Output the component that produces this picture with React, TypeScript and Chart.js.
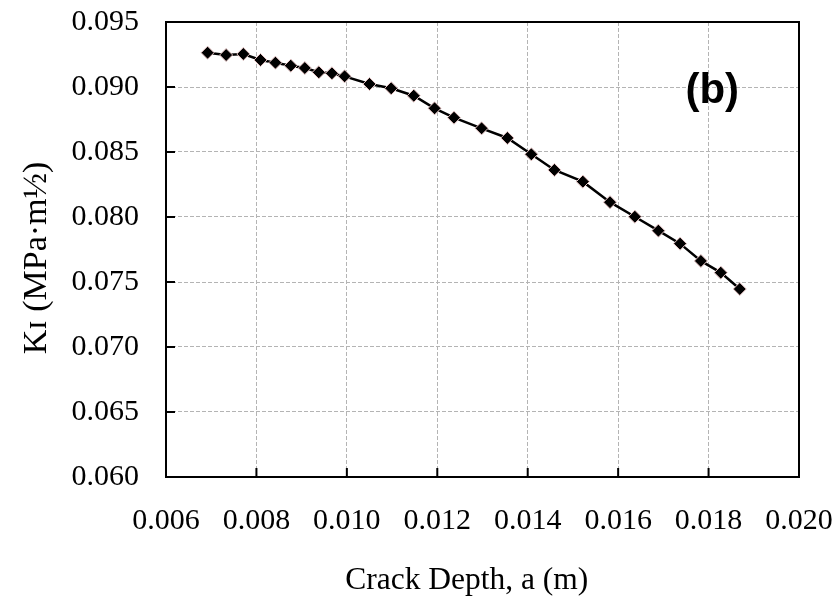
import React, { useEffect, useRef } from "react";
import { Chart, registerables } from "chart.js";

Chart.register(...registerables);

const crackDepth: number[] = [
  0.00692, 0.00733, 0.00771, 0.00809, 0.00842, 0.00876, 0.00907, 0.00938,
  0.00967, 0.00995, 0.0105, 0.01098, 0.01148, 0.01194, 0.01237, 0.01298,
  0.01355, 0.01408, 0.01459, 0.01522, 0.01582, 0.01637, 0.01689, 0.01737,
  0.01783, 0.01827, 0.01869,
];
const k1Values: number[] = [
  0.09264, 0.09246, 0.09254, 0.09208, 0.09187, 0.09164, 0.09146, 0.09113,
  0.09105, 0.09082, 0.09023, 0.0899, 0.08933, 0.08836, 0.08764, 0.08682,
  0.08608, 0.08482, 0.08362, 0.08272, 0.08114, 0.08002, 0.07895, 0.07795,
  0.07662, 0.07572, 0.07446,
];
const xTicks: number[] = [0.006, 0.008, 0.01, 0.012, 0.014, 0.016, 0.018, 0.02];
const yTicks: number[] = [0.06, 0.065, 0.07, 0.075, 0.08, 0.085, 0.09, 0.095];
// trailing spaces nudge the centred titles to where they sit in the reference
const xTitle = "Crack Depth, a (m)    ";
const yTitle = "K\u026A (MPa\u00B7m\u00BD)  ";
const panelLabel = "(b)";

const SERIF = "'Liberation Serif', 'Times New Roman', serif";
const SANS = "'Liberation Sans', Arial, sans-serif";

const framePlugin = {
  id: "frame",
  afterDraw(chart: any) {
    const { ctx, chartArea: a, scales } = chart;
    ctx.save();
    ctx.strokeStyle = "#000";
    ctx.lineWidth = 2;
    ctx.strokeRect(a.left, a.top, a.right - a.left, a.bottom - a.top);
    ctx.beginPath();
    for (const v of xTicks) {
      const x = scales.x.getPixelForValue(v);
      ctx.moveTo(x, a.bottom);
      ctx.lineTo(x, a.bottom - 9);
    }
    for (const v of yTicks) {
      const y = scales.y.getPixelForValue(v);
      ctx.moveTo(a.left, y);
      ctx.lineTo(a.left + 9, y);
    }
    ctx.stroke();
    ctx.fillStyle = "#000";
    ctx.font = `bold 42px ${SANS}`;
    ctx.textAlign = "center";
    ctx.textBaseline = "middle";
    ctx.fillText(
      panelLabel,
      a.left + (a.right - a.left) * 0.863,
      a.top + (a.bottom - a.top) * 0.152
    );
    ctx.restore();
  },
};

export default function App() {
  const ref = useRef<HTMLCanvasElement | null>(null);
  useEffect(() => {
    if (!ref.current) return;
    const chart = new Chart(ref.current, {
      type: "scatter",
      data: {
        datasets: [
          {
            data: crackDepth.map((x, i) => ({ x, y: k1Values[i] })),
            showLine: true,
            borderColor: "#000",
            borderWidth: 2.5,
            backgroundColor: "#000",
            pointStyle: "rectRot",
            pointRadius: 6.5,
            pointBackgroundColor: "#000",
            pointBorderColor: "#e6c4c4",
            pointBorderWidth: 1,
          },
        ],
      },
      options: {
        animation: false,
        responsive: false,
        layout: { padding: { top: 22, right: 39, left: 0, bottom: 0 } },
        plugins: { legend: { display: false }, tooltip: { enabled: false } },
        scales: {
          x: {
            type: "linear",
            min: 0.006,
            max: 0.02,
            afterBuildTicks: (s: any) => {
              s.ticks = xTicks.map((v) => ({ value: v }));
            },
            afterFit: (s: any) => {
              s.height = 126;
              s.paddingLeft = 0;
              s.paddingRight = 0;
            },
            ticks: {
              padding: 26,
              color: "#000",
              font: { family: SERIF, size: 30 },
              callback: (v: any) => Number(v).toFixed(3),
              maxRotation: 0,
            },
            grid: { color: "#b4b4b4", lineWidth: 1, drawTicks: false },
            border: { display: false, dash: [4, 2] },
            title: {
              display: true,
              text: xTitle,
              color: "#000",
              font: { family: SERIF, size: 31.5 },
              padding: { top: 0, bottom: 3 },
            },
          },
          y: {
            type: "linear",
            min: 0.06,
            max: 0.095,
            afterBuildTicks: (s: any) => {
              s.ticks = yTicks.map((v) => ({ value: v }));
            },
            afterFit: (s: any) => {
              s.width = 166;
              s.paddingTop = 0;
              s.paddingBottom = 0;
            },
            ticks: {
              padding: 27,
              color: "#000",
              font: { family: SERIF, size: 30 },
              callback: (v: any) => Number(v).toFixed(3),
            },
            grid: { color: "#b4b4b4", lineWidth: 1, drawTicks: false },
            border: { display: false, dash: [4, 2] },
            title: {
              display: true,
              text: yTitle,
              color: "#000",
              font: { family: SERIF, size: 34 },
              padding: { top: 17, bottom: 0 },
            },
          },
        },
      },
      plugins: [framePlugin],
    });
    return () => chart.destroy();
  }, []);
  return (
    <div style={{ position: "fixed", left: 0, top: 0, width: 838, height: 603, background: "#fff" }}>
      <canvas ref={ref} width={838} height={603} style={{ width: 838, height: 603 }} />
    </div>
  );
}
